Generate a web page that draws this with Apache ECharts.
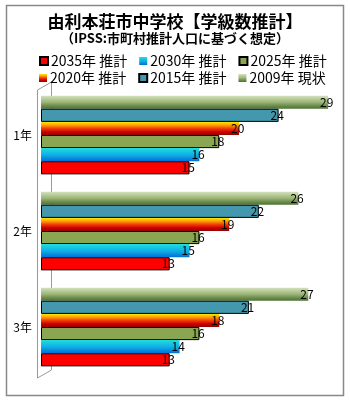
<!DOCTYPE html>
<html><head><meta charset="utf-8">
<script src="https://cdn.jsdelivr.net/npm/echarts@6/dist/echarts.min.js"></script>
<style>html,body{margin:0;padding:0;background:#fff}#c{width:350px;height:400px}</style>
</head><body><div id="c"></div>
<script>
const categories = ['1年', '2年', '3年'];
const legendOrder = ['2035年 推計', '2030年 推計', '2025年 推計', '2020年 推計', '2015年 推計', '2009年 現状'];
const seriesNames = ['2009年 現状', '2015年 推計', '2020年 推計', '2025年 推計', '2030年 推計', '2035年 推計'];
const v2009 = [29, 26, 27];
const v2015 = [24, 22, 21];
const v2020 = [20, 19, 18];
const v2025 = [18, 16, 16];
const v2030 = [16, 15, 14];
const v2035 = [15, 13, 13];
const values = [v2009, v2015, v2020, v2025, v2030, v2035];

const grad = (stops) => new echarts.graphic.LinearGradient(0, 0, 0, 1, stops.map((c, i) => ({offset: i / (stops.length - 1), color: c})));
const styles = [
  {color: grad(['#d6e2c0', '#b8cc98', '#9cb478', '#6e9050', '#4e7034'])},
  {color: '#4498ae', borderColor: '#000', borderWidth: 1},
  {color: grad(['#ffe800', '#ffa000', '#f04000', '#d00000', '#900000'])},
  {color: '#8ba652', borderColor: '#000', borderWidth: 1},
  {color: grad(['#22dce0', '#10b0e4', '#0070d8'])},
  {color: '#ff0000', borderColor: '#000', borderWidth: 1}
];

const chart = echarts.init(document.getElementById('c'));
chart.setOption({
  animation: false,
  textStyle: {fontFamily: 'Noto Sans CJK JP'},
  title: {
    text: '由利本荘市中学校【学級数推計】',
    subtext: '（IPSS:市町村推計人口に基づく想定）',
    left: 'center', top: 8, itemGap: 2,
    textStyle: {fontSize: 17, fontWeight: 'bold', color: '#000'},
    subtextStyle: {fontSize: 13, fontWeight: 'bold', color: '#000'}
  },
  legend: [
    {data: legendOrder.slice(0, 3), left: 34, top: 49, itemWidth: 8, itemHeight: 8, itemGap: 12, icon: 'rect',
     textStyle: {fontSize: 14, color: '#000', padding: [0, 0, 0, -2]}},
    {data: legendOrder.slice(3, 6), left: 34, top: 66, itemWidth: 8, itemHeight: 8, itemGap: 12, icon: 'rect',
     textStyle: {fontSize: 14, color: '#000', padding: [0, 0, 0, -2]}}
  ],
  grid: {left: 41, top: 87, width: 297, height: 288},
  xAxis: {type: 'value', min: 0, max: 30, show: false},
  yAxis: {type: 'category', data: categories, inverse: true,
    axisLine: {show: false}, axisTick: {show: false},
    axisLabel: {fontSize: 12, color: '#000', margin: 9}},
  graphic: [
    {type: 'rect', shape: {x: 6.5, y: 5.5, width: 337, height: 390}, style: {fill: 'none', stroke: '#888', lineWidth: 1.5}, silent: true},
    {type: 'polyline', shape: {points: [[37.5, 378], [37.5, 90], [51.5, 82], [51.5, 370]]}, style: {fill: 'none', stroke: '#999', lineWidth: 1}, silent: true, z: -1},
    {type: 'polyline', shape: {points: [[37.5, 378], [51.5, 370]]}, style: {fill: 'none', stroke: '#999', lineWidth: 1}, silent: true}
  ],
  series: values.map((d, i) => ({
    name: seriesNames[i], type: 'bar', data: d,
    barGap: '0%', barCategoryGap: '18%',
    itemStyle: styles[i],
    label: {show: true, position: 'right', distance: -8, fontSize: 12, color: '#000'}
  }))
});
</script></body></html>
